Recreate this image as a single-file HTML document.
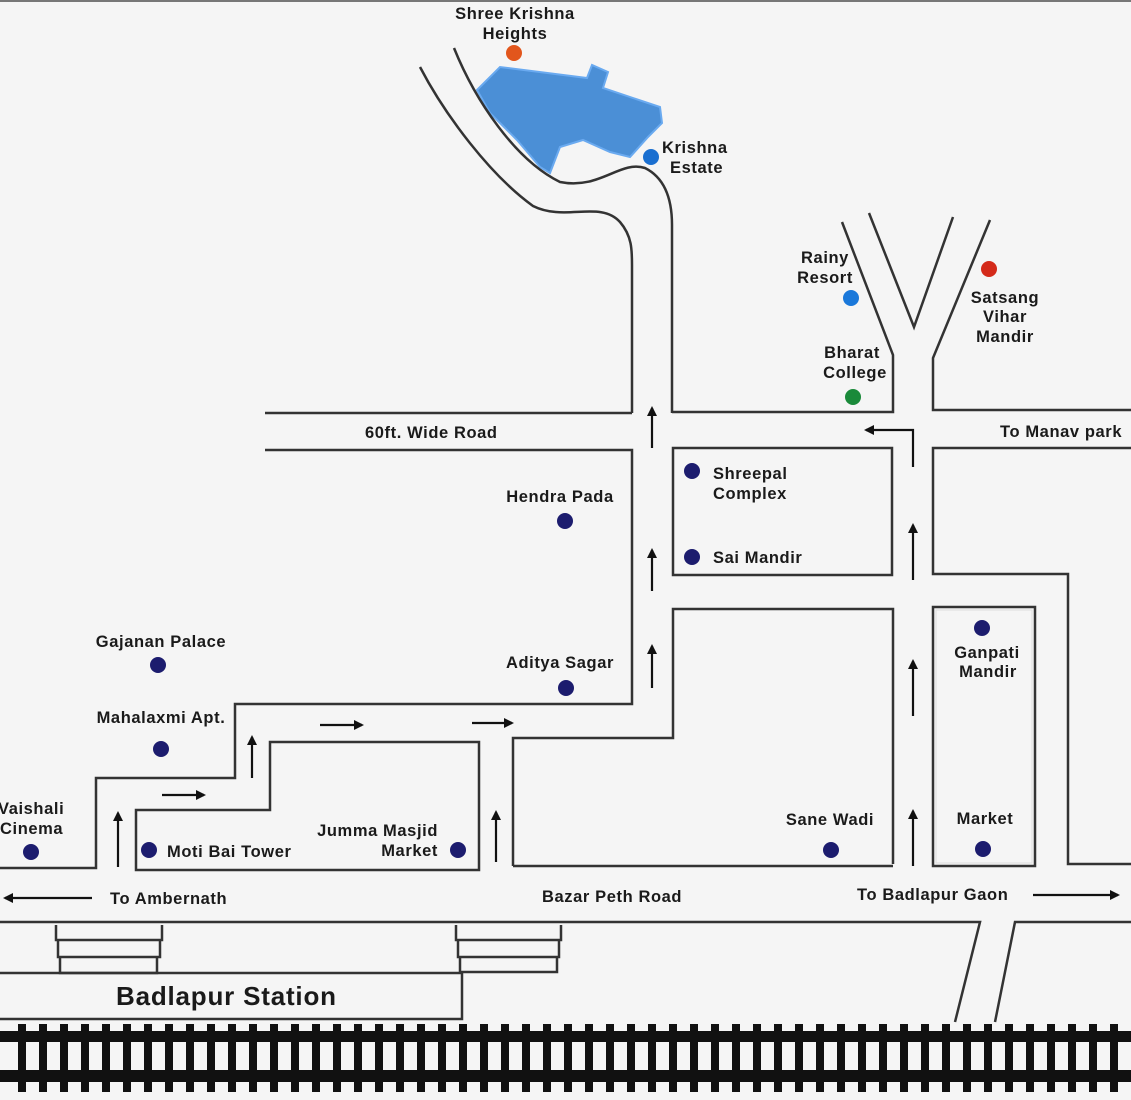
<!DOCTYPE html>
<html><head><meta charset="utf-8"><style>
html,body{margin:0;padding:0;background:#f5f5f5;}
svg{display:block;}
text{font-family:"Liberation Sans",sans-serif;font-weight:bold;font-size:16.5px;letter-spacing:0.6px;fill:#1a1a1a;}
</style></head><body>
<svg width="1131" height="1100" viewBox="0 0 1131 1100" xmlns="http://www.w3.org/2000/svg">
<defs>
<marker id="ah" markerWidth="10" markerHeight="10" refX="8" refY="5" orient="auto" markerUnits="userSpaceOnUse">
<path d="M0,0 L10,5 L0,10 z" fill="#111"/></marker>
</defs>
<rect width="1131" height="1100" fill="#f5f5f5"/>
<rect x="0" y="0" width="1131" height="2" fill="#777"/>
<!-- blob -->
<path d="M477,90 L500,67 L587,78 L592,65 L608,72 L603,88 L660,107 L662,123 L648,137 L630,157 L610,152 L583,140 L560,147 L550,173 L540,167 L517,140 L490,113 Z" fill="#4b8fd6" stroke="#6aaaf0" stroke-width="2"/>
<g fill="none" stroke="#333" stroke-width="2.5">
<path d="M420,67 C445,115 490,175 533,206 C565,222 600,200 620,222 C632,236 632,250 632,265 L632,413"/>
<path d="M454,48 C475,100 515,160 560,182 C600,190 620,160 645,168 C665,178 672,200 672,225 L672,413"/>
<path d="M265,413 L632,413"/>
<path d="M672,412 L893,412 L893,355 L842,222"/>
<path d="M869,213 L914,327 L953,217"/>
<path d="M990,220 L933,358 L933,410 L1131,410"/>
<path d="M265,450 L632,450 L632,704 L235,704 L235,778 L96,778 L96,868 L0,868"/>
<rect x="673" y="448" width="219" height="127"/>
<path d="M1131,448 L933,448 L933,574 L1068,574 L1068,864 L1131,864"/>
<rect x="933" y="607" width="102" height="259"/>
<path d="M893,864 L893,609 L673,609 L673,738 L513,738 L513,866"/>
<path d="M513,866 L893,866"/>
<path d="M136,870 L136,810 L270,810 L270,742 L479,742 L479,870 Z"/>
<path d="M0,922 L980,922 L955,1022"/>
<path d="M995,1022 L1015,922 L1131,922"/>
<path d="M0,973 L462,973 L462,1019 L0,1019"/>
<path d="M56,925 L56,940 L162,940 L162,925 M58,940 L58,957 L160,957 L160,940 M60,957 L60,973 L157,973 L157,957"/>
<path d="M456,925 L456,940 L561,940 L561,925 M458,940 L458,957 L559,957 L559,940 M460,957 L460,972 L557,972 L557,957"/>
</g>
<rect x="936" y="610" width="96" height="253" fill="none" stroke="#ddd" stroke-width="1"/>
<g stroke="#111" stroke-width="2.2" fill="none" marker-end="url(#ah)">
<path d="M652,448 L652,408"/><path d="M652,591 L652,550"/><path d="M652,688 L652,646"/>
<path d="M913,467 L913,430 L866,430"/>
<path d="M913,580 L913,525"/><path d="M913,716 L913,661"/><path d="M913,866 L913,811"/>
<path d="M118,867 L118,813"/><path d="M252,778 L252,737"/><path d="M496,862 L496,812"/>
<path d="M162,795 L204,795"/><path d="M320,725 L362,725"/><path d="M472,723 L512,723"/>
<path d="M92,898 L5,898"/><path d="M1033,895 L1118,895"/>
</g>
<rect x="0" y="1031" width="1131" height="11" fill="#111"/>
<rect x="0" y="1070" width="1131" height="12" fill="#111"/>
<g>
<circle cx="514" cy="53" r="8" fill="#e2561c"/>
<circle cx="651" cy="157" r="8" fill="#1a6fd0"/>
<circle cx="851" cy="298" r="8" fill="#1a78da"/>
<circle cx="989" cy="269" r="8" fill="#d42a1a"/>
<circle cx="853" cy="397" r="8" fill="#1a8a3a"/>
<g fill="#1c1c6e">
<circle cx="565" cy="521" r="8"/><circle cx="566" cy="688" r="8"/>
<circle cx="158" cy="665" r="8"/><circle cx="161" cy="749" r="8"/>
<circle cx="31" cy="852" r="8"/><circle cx="149" cy="850" r="8"/>
<circle cx="458" cy="850" r="8"/><circle cx="692" cy="471" r="8"/>
<circle cx="692" cy="557" r="8"/><circle cx="982" cy="628" r="8"/>
<circle cx="831" cy="850" r="8"/><circle cx="983" cy="849" r="8"/>
</g></g>
<g>
<text x="515" y="19" text-anchor="middle">Shree Krishna</text>
<text x="515" y="39" text-anchor="middle">Heights</text>
<text x="662" y="153">Krishna</text><text x="670" y="173">Estate</text>
<text x="825" y="263" text-anchor="middle">Rainy</text><text x="825" y="283" text-anchor="middle">Resort</text>
<text x="1005" y="303" text-anchor="middle">Satsang</text><text x="1005" y="322" text-anchor="middle">Vihar</text><text x="1005" y="342" text-anchor="middle">Mandir</text>
<text x="852" y="358" text-anchor="middle">Bharat</text><text x="855" y="378" text-anchor="middle">College</text>
<text x="365" y="438">60ft. Wide Road</text>
<text x="1000" y="437">To Manav park</text>
<text x="560" y="502" text-anchor="middle">Hendra Pada</text>
<text x="713" y="479">Shreepal</text><text x="713" y="499">Complex</text>
<text x="713" y="563">Sai Mandir</text>
<text x="987" y="658" text-anchor="middle">Ganpati</text><text x="988" y="677" text-anchor="middle">Mandir</text>
<text x="161" y="647" text-anchor="middle">Gajanan Palace</text>
<text x="560" y="668" text-anchor="middle">Aditya Sagar</text>
<text x="161" y="723" text-anchor="middle">Mahalaxmi Apt.</text>
<text x="-2" y="814">Vaishali</text><text x="0" y="834">Cinema</text>
<text x="167" y="857">Moti Bai Tower</text>
<text x="438" y="836" text-anchor="end">Jumma Masjid</text><text x="438" y="856" text-anchor="end">Market</text>
<text x="830" y="825" text-anchor="middle">Sane Wadi</text>
<text x="985" y="824" text-anchor="middle">Market</text>
<text x="110" y="904">To Ambernath</text>
<text x="542" y="902">Bazar Peth Road</text>
<text x="857" y="900">To Badlapur Gaon</text>
<text x="116" y="1005" style="font-size:26px;letter-spacing:0.8px">Badlapur Station</text>
</g>
<g fill="#111">
<rect x="18" y="1024" width="8" height="68"/><rect x="39" y="1024" width="8" height="68"/><rect x="60" y="1024" width="8" height="68"/><rect x="81" y="1024" width="8" height="68"/><rect x="102" y="1024" width="8" height="68"/><rect x="123" y="1024" width="8" height="68"/><rect x="144" y="1024" width="8" height="68"/><rect x="165" y="1024" width="8" height="68"/><rect x="186" y="1024" width="8" height="68"/><rect x="207" y="1024" width="8" height="68"/><rect x="228" y="1024" width="8" height="68"/><rect x="249" y="1024" width="8" height="68"/><rect x="270" y="1024" width="8" height="68"/><rect x="291" y="1024" width="8" height="68"/><rect x="312" y="1024" width="8" height="68"/><rect x="333" y="1024" width="8" height="68"/><rect x="354" y="1024" width="8" height="68"/><rect x="375" y="1024" width="8" height="68"/><rect x="396" y="1024" width="8" height="68"/><rect x="417" y="1024" width="8" height="68"/><rect x="438" y="1024" width="8" height="68"/><rect x="459" y="1024" width="8" height="68"/><rect x="480" y="1024" width="8" height="68"/><rect x="501" y="1024" width="8" height="68"/><rect x="522" y="1024" width="8" height="68"/><rect x="543" y="1024" width="8" height="68"/><rect x="564" y="1024" width="8" height="68"/><rect x="585" y="1024" width="8" height="68"/><rect x="606" y="1024" width="8" height="68"/><rect x="627" y="1024" width="8" height="68"/><rect x="648" y="1024" width="8" height="68"/><rect x="669" y="1024" width="8" height="68"/><rect x="690" y="1024" width="8" height="68"/><rect x="711" y="1024" width="8" height="68"/><rect x="732" y="1024" width="8" height="68"/><rect x="753" y="1024" width="8" height="68"/><rect x="774" y="1024" width="8" height="68"/><rect x="795" y="1024" width="8" height="68"/><rect x="816" y="1024" width="8" height="68"/><rect x="837" y="1024" width="8" height="68"/><rect x="858" y="1024" width="8" height="68"/><rect x="879" y="1024" width="8" height="68"/><rect x="900" y="1024" width="8" height="68"/><rect x="921" y="1024" width="8" height="68"/><rect x="942" y="1024" width="8" height="68"/><rect x="963" y="1024" width="8" height="68"/><rect x="984" y="1024" width="8" height="68"/><rect x="1005" y="1024" width="8" height="68"/><rect x="1026" y="1024" width="8" height="68"/><rect x="1047" y="1024" width="8" height="68"/><rect x="1068" y="1024" width="8" height="68"/><rect x="1089" y="1024" width="8" height="68"/><rect x="1110" y="1024" width="8" height="68"/>
</g>
</svg>
</body></html>
